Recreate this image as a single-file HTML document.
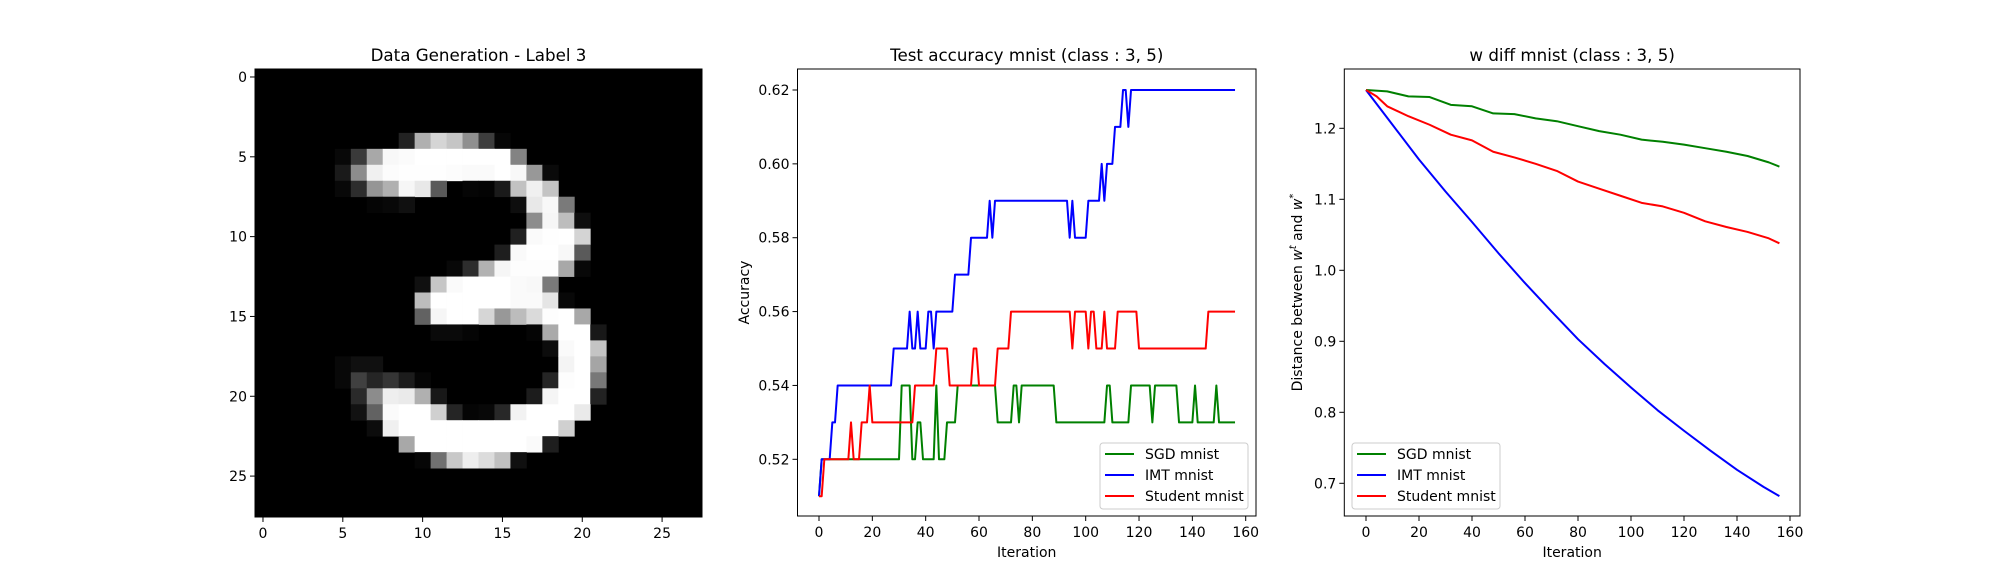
<!DOCTYPE html>
<html><head><meta charset="utf-8"><style>
html,body{margin:0;padding:0;background:#fff}
svg{display:block;font-family:"DejaVu Sans","Liberation Sans",sans-serif}
</style></head><body>
<svg id="fig" width="2000" height="580" viewBox="0 0 2000 580" xmlns="http://www.w3.org/2000/svg">
<rect width="2000" height="580" fill="#fff"/>
<g id="p1"></g>
<g id="p2"></g>
<g id="p3"></g>
</svg>
<script>
// ---- Panel 1: digit pixels [row, col, gray]
const digitPixels = [
[4,9,34],[4,10,176],[4,11,213],[4,12,197],[4,13,143],[4,14,61],[4,15,6],
[5,5,8],[5,6,58],[5,7,168],[5,8,248],[5,9,251],[5,10,255],[5,11,255],[5,12,255],[5,13,255],[5,14,255],[5,15,255],[5,16,131],
[6,5,26],[6,6,140],[6,7,240],[6,8,252],[6,9,254],[6,10,254],[6,11,254],[6,12,252],[6,13,250],[6,14,250],[6,15,255],[6,16,248],[6,17,152],[6,18,10],
[7,5,8],[7,6,45],[7,7,149],[7,8,176],[7,9,246],[7,10,232],[7,11,90],[7,13,5],[7,14,3],[7,15,26],[7,16,194],[7,17,240],[7,18,196],
[8,7,5],[8,8,8],[8,9,16],[8,16,14],[8,17,232],[8,18,248],[8,19,122],
[9,17,140],[9,18,246],[9,19,189],[9,20,14],
[10,16,32],[10,17,250],[10,18,254],[10,19,255],[10,20,212],
[11,15,30],[11,16,250],[11,17,255],[11,18,255],[11,19,248],[11,20,90],
[12,12,8],[12,13,45],[12,14,178],[12,15,246],[12,16,253],[12,17,253],[12,18,253],[12,19,168],[12,20,8],
[13,10,16],[13,11,198],[13,12,250],[13,13,255],[13,14,255],[13,15,255],[13,16,250],[13,17,248],[13,18,122],
[14,10,188],[14,11,255],[14,12,255],[14,13,255],[14,14,255],[14,15,255],[14,16,250],[14,17,250],[14,18,229],[14,19,8],
[15,10,98],[15,11,246],[15,12,255],[15,13,255],[15,14,214],[15,15,152],[15,16,188],[15,17,218],[15,18,253],[15,19,255],[15,20,168],
[16,11,10],[16,12,10],[16,13,5],[16,17,5],[16,18,170],[16,19,255],[16,20,255],[16,21,24],
[17,18,12],[17,19,250],[17,20,255],[17,21,196],
[18,5,8],[18,6,16],[18,7,16],[18,19,244],[18,20,255],[18,21,165],
[19,5,8],[19,6,64],[19,7,37],[19,8,53],[19,9,28],[19,10,6],[19,18,37],[19,19,253],[19,20,255],[19,21,120],
[20,6,42],[20,7,140],[20,8,238],[20,9,234],[20,10,176],[20,11,24],[20,17,28],[20,18,245],[20,19,255],[20,20,255],[20,21,34],
[21,6,18],[21,7,98],[21,8,251],[21,9,255],[21,10,255],[21,11,208],[21,12,37],[21,13,5],[21,14,8],[21,15,40],[21,16,242],[21,17,255],[21,18,255],[21,19,255],[21,20,234],
[22,7,12],[22,8,240],[22,9,255],[22,10,255],[22,11,255],[22,12,255],[22,13,255],[22,14,255],[22,15,255],[22,16,255],[22,17,255],[22,18,255],[22,19,208],
[23,9,168],[23,10,255],[23,11,255],[23,12,255],[23,13,255],[23,14,255],[23,15,255],[23,16,255],[23,17,250],[23,18,30],
[24,10,6],[24,11,112],[24,12,200],[24,13,238],[24,14,220],[24,15,192],[24,16,16]
];
const digitTicks = [0,5,10,15,20,25];

// ---- Panel 2: accuracy step series as (value, run length) pairs
const sgdAccValues = [0.51,0.52,0.54,0.52,0.53,0.52,0.54,0.52,0.53,0.54,0.53,0.54,0.53,0.54,0.53,0.54,0.53,0.54,0.53,0.54,0.53,0.54,0.53,0.54,0.53];
const sgdAccRuns   = [1,30,4,2,2,5,1,3,4,15,6,2,1,13,19,2,7,8,1,9,6,1,7,1,7];
const imtAccValues = [0.51,0.52,0.53,0.54,0.55,0.56,0.55,0.56,0.55,0.56,0.55,0.56,0.57,0.58,0.59,0.58,0.59,0.58,0.59,0.58,0.59,0.60,0.59,0.60,0.61,0.62,0.61,0.62];
const imtAccRuns   = [1,4,2,21,6,1,2,1,3,2,1,7,6,7,1,1,28,1,1,5,5,1,1,3,3,2,1,40];
const stuAccValues = [0.51,0.52,0.53,0.52,0.53,0.54,0.53,0.54,0.55,0.54,0.55,0.54,0.55,0.56,0.55,0.56,0.55,0.56,0.55,0.56,0.55,0.56,0.55,0.56];
const stuAccRuns   = [2,10,1,3,3,1,16,8,5,9,2,7,5,23,1,5,1,2,3,1,4,8,26,11];
const accXTicks = [0,20,40,60,80,100,120,140,160];
const accYTicks = [0.52,0.54,0.56,0.58,0.60,0.62];
const accYTickLabels = ["0.52","0.54","0.56","0.58","0.60","0.62"];

// ---- Panel 3: w diff series
const sgdDiffIters = [0,8,16,24,32,40,48,56,64,72,80,88,96,104,112,120,128,136,144,152,156];
const sgdDiffValues = [1.254,1.252,1.245,1.244,1.233,1.231,1.221,1.220,1.214,1.210,1.203,1.196,1.191,1.184,1.181,1.177,1.172,1.167,1.161,1.152,1.146];
const stuDiffIters = [0,4,8,16,24,32,40,48,56,64,72,80,88,96,104,112,120,128,136,144,152,156];
const stuDiffValues = [1.254,1.245,1.231,1.217,1.205,1.191,1.183,1.167,1.159,1.150,1.140,1.125,1.115,1.105,1.095,1.090,1.081,1.069,1.061,1.054,1.045,1.038];
const imtDiffIters = [0,10,20,30,40,50,60,70,80,90,100,110,120,130,140,150,156];
const imtDiffValues = [1.254,1.205,1.156,1.111,1.068,1.024,0.982,0.942,0.903,0.868,0.835,0.803,0.774,0.746,0.719,0.695,0.682];
const diffXTicks = [0,20,40,60,80,100,120,140,160];
const diffYTicks = [0.7,0.8,0.9,1.0,1.1,1.2];
const diffYTickLabels = ["0.7","0.8","0.9","1.0","1.1","1.2"];

const NS = "http://www.w3.org/2000/svg";
function mk(parent, tag, attrs, text){
  const e = document.createElementNS(NS, tag);
  for (const k in attrs) e.setAttribute(k, attrs[k]);
  if (text !== undefined) e.textContent = text;
  parent.appendChild(e);
  return e;
}

// ===== Panel 1
(function(){
  const g = document.getElementById('p1');
  const L=255, R=702, T=69, B=517, cell=(R-L)/28;
  const bg = mk(g,'rect',{x:L,y:T,width:R-L,height:B-T,fill:'#000'});
  
  
  digitPixels.forEach(p=>{
    const v=p[2];
    const r = mk(g,'rect',{x:(L+p[1]*cell).toFixed(2),y:(T+p[0]*cell).toFixed(2),width:(cell+0.4).toFixed(2),height:(cell+0.4).toFixed(2),fill:`rgb(${v},${v},${v})`});
    
    
  });
  mk(g,'rect',{x:L,y:T,width:R-L,height:B-T,fill:'none',stroke:'#000','stroke-width':1});
  digitTicks.forEach(t=>{
    const x = L+(t+0.5)*cell, y = T+(t+0.5)*cell;
    mk(g,'line',{x1:x,y1:B,x2:x,y2:B+5,stroke:'#000'});
    const xl = mk(g,'text',{x:x,y:B+21,'font-size':14,'text-anchor':'middle'},String(t));
    
    
    mk(g,'line',{x1:L-5,y1:y,x2:L,y2:y,stroke:'#000'});
    const yl = mk(g,'text',{x:L-8,y:y+5,'font-size':14,'text-anchor':'end'},String(t));
    
    
  });
  const tt = mk(g,'text',{x:(L+R)/2,y:61,'font-size':16.7,'text-anchor':'middle'},'Data Generation - Label 3');
  
  
})();

function axesPanel(g, L,R,T,B, xs, ys, xTicks, yTicks, yLabels, title, ytitle, ytx){
  mk(g,'rect',{x:L,y:T,width:R-L,height:B-T,fill:'none',stroke:'#000','stroke-width':1});
  xTicks.forEach(t=>{
    const x=xs(t);
    mk(g,'line',{x1:x,y1:B,x2:x,y2:B+5,stroke:'#000'});
    const e=mk(g,'text',{x:x,y:B+21,'font-size':14,'text-anchor':'middle'},String(t));
    
    
  });
  yTicks.forEach((t,i)=>{
    const y=ys(t);
    mk(g,'line',{x1:L-5,y1:y,x2:L,y2:y,stroke:'#000'});
    const e=mk(g,'text',{x:L-8,y:y+5,'font-size':14,'text-anchor':'end'},yLabels[i]);
    
    
  });
  const tt=mk(g,'text',{x:(L+R)/2,y:61,'font-size':16.7,'text-anchor':'middle'},title);
  
  
  const xt=mk(g,'text',{x:(L+R)/2,y:557,'font-size':14,'text-anchor':'middle'},'Iteration');
  
  
  const yc=(T+B)/2;
  const yt=mk(g,'text',{x:ytx,y:yc,'font-size':14,'text-anchor':'middle',transform:`rotate(-90 ${ytx} ${yc})`});
  yt.innerHTML = ytitle;
  
  
}
function legend(g, x, y){
  const items=[['SGD mnist','#008000','legend-entry-sgd'],['IMT mnist','#0000ff','legend-entry-imt'],['Student mnist','#ff0000','legend-entry-student']];
  const box=mk(g,'rect',{x:x,y:y,width:148,height:66,rx:3,fill:'#fff','fill-opacity':0.8,stroke:'#ccc'});
  
  
  items.forEach((it,i)=>{
    const cy=y+11+i*21;
    const gg=mk(g,'g',{});
    
    
    mk(gg,'line',{x1:x+5,y1:cy,x2:x+34,y2:cy,stroke:it[1],'stroke-width':2});
    mk(gg,'text',{x:x+45,y:cy+5,'font-size':14},it[0]);
  });
}
function runsToPoints(vals, runs){
  const pts=[]; let i=0;
  vals.forEach((v,k)=>{ for(let j=0;j<runs[k];j++){ pts.push([i,v]); i++; } });
  return pts;
}
function drawLine(g, pts, xs, ys, color, name){
  const d = pts.map((p,i)=>(i?'L':'M')+xs(p[0]).toFixed(2)+' '+ys(p[1]).toFixed(2)).join(' ');
  const e = mk(g,'path',{d:d,fill:'none',stroke:color,'stroke-width':2,'stroke-linejoin':'round'});
  
  
}

// ===== Panel 2
(function(){
  const g=document.getElementById('p2');
  const L=797.5,R=1256,T=69,B=516;
  const xs=v=>819+v*(1245.7-819)/160;
  const ys=v=>90+(0.62-v)*(459.3-90)/0.10;
  drawLine(g, runsToPoints(sgdAccValues,sgdAccRuns), xs, ys, '#008000','sgd-accuracy-line');
  drawLine(g, runsToPoints(imtAccValues,imtAccRuns), xs, ys, '#0000ff','imt-accuracy-line');
  drawLine(g, runsToPoints(stuAccValues,stuAccRuns), xs, ys, '#ff0000','student-accuracy-line');
  axesPanel(g,L,R,T,B,xs,ys,accXTicks,accYTicks,accYTickLabels,'Test accuracy mnist (class : 3, 5)','Accuracy',749);
  legend(g,1100,443);
})();

// ===== Panel 3
(function(){
  const g=document.getElementById('p3');
  const L=1344.3,R=1800,T=69,B=516;
  const xs=v=>1366+v*(1790-1366)/160;
  const ys=v=>128.3+(1.2-v)*(483.3-128.3)/0.5;
  const z=(a,b)=>a.map((x,i)=>[x,b[i]]);
  drawLine(g, z(sgdDiffIters,sgdDiffValues), xs, ys, '#008000','sgd-wdiff-line');
  drawLine(g, z(imtDiffIters,imtDiffValues), xs, ys, '#0000ff','imt-wdiff-line');
  drawLine(g, z(stuDiffIters,stuDiffValues), xs, ys, '#ff0000','student-wdiff-line');
  axesPanel(g,L,R,T,B,xs,ys,diffXTicks,diffYTicks,diffYTickLabels,'w diff mnist (class : 3, 5)',
    'Distance between <tspan font-style="italic">w</tspan><tspan dy="-6" font-size="10" font-style="italic">t</tspan><tspan dy="6"> and </tspan><tspan font-style="italic">w</tspan><tspan dy="-6" font-size="10">*</tspan>',1302);
  legend(g,1352,443);
})();
</script>
</body></html>
